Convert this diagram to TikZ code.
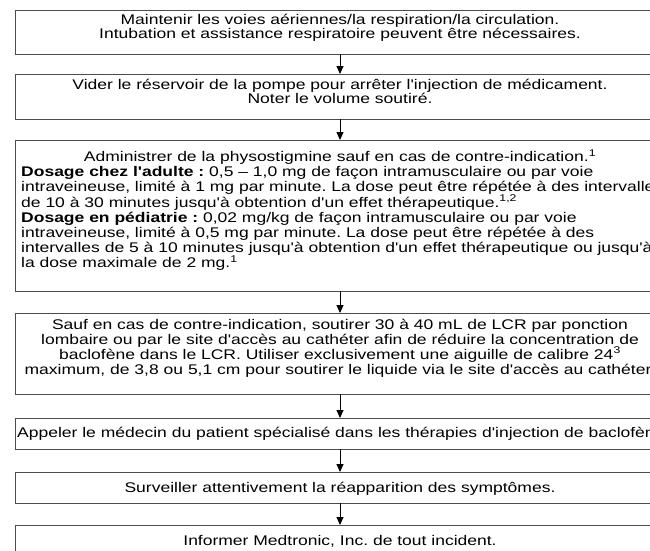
\documentclass[tikz,border=0pt]{standalone}
\usepackage{fontspec}
\setmainfont{Liberation Sans}[FakeStretch=1.25,Ligatures=TeXOff]
\usetikzlibrary{arrows.meta}
\tikzset{
  stepbox/.style={draw=black!70, line width=1pt, minimum width=650pt, inner sep=0pt, outer sep=0pt},
  txt/.style={inner sep=0pt, anchor=base, font=\fontsize{14}{15}\selectfont\frenchspacing},
  txtl/.style={inner sep=0pt, anchor=base west, font=\fontsize{14}{15}\selectfont\frenchspacing},
  flow/.style={-{Triangle[length=8pt,width=7pt]}, line width=0.9pt, black},
}
\begin{document}
\begin{tikzpicture}[x=1pt,y=-1pt]
\useasboundingbox (0,0) rectangle (650,550);
\fill[white] (0,0) rectangle (650,550);
\clip (0,0) rectangle (650,550);
% boxes
\node[stepbox, minimum height=44pt] (b1) at (340,32) {};
\node[stepbox, minimum height=45pt] (b2) at (340,96.5) {};
\node[stepbox, minimum height=151pt] (b3) at (340,215.5) {};
\node[stepbox, minimum height=81pt] (b4) at (340,353.5) {};
\node[stepbox, minimum height=31pt] (b5) at (340,433.5) {};
\node[stepbox, minimum height=31pt] (b6) at (340,487.5) {};
\node[stepbox, minimum height=31pt] (b7) at (340,540.5) {};
% connectors
\draw[flow] (b1.south) -- (b2.north);
\draw[flow] (b2.south) -- (b3.north);
\draw[flow] (b3.south) -- (b4.north);
\draw[flow] (b4.south) -- (b5.north);
\draw[flow] (b5.south) -- (b6.north);
\draw[flow] (b6.south) -- (b7.north);
% box 1
\node[txt] (t1a) at (340,24) {Maintenir les voies aériennes/la respiration/la circulation.};
\node[txt] (t1b) at (340,38.5) {Intubation et assistance respiratoire peuvent être nécessaires.};
% box 2
\node[txt] (t2a) at (340,89) {Vider le réservoir de la pompe pour arrêter l'injection de médicament.};
\node[txt] (t2b) at (340,103.5) {Noter le volume soutiré.};
% box 3
\node[txt] (t3a) at (340,161.5) {Administrer de la physostigmine sauf en cas de contre-indication.\textsuperscript{1}};
\node[txtl] (t3b) at (21,176.7) {\textbf{Dosage chez l'adulte :} 0,5 – 1,0 mg de façon intramusculaire ou par voie};
\node[txtl] (t3c) at (21,191.9) {intraveineuse, limité à 1 mg par minute. La dose peut être répétée à des intervalles};
\node[txtl] (t3d) at (21,207.1) {de 10 à 30 minutes jusqu'à obtention d'un effet thérapeutique.\textsuperscript{1,2}};
\node[txtl] (t3e) at (21,222.3) {\textbf{Dosage en pédiatrie :} 0,02 mg/kg de façon intramusculaire ou par voie};
\node[txtl] (t3f) at (21,237.5) {intraveineuse, limité à 0,5 mg par minute. La dose peut être répétée à des};
\node[txtl] (t3g) at (21,252.7) {intervalles de 5 à 10 minutes jusqu'à obtention d'un effet thérapeutique ou jusqu'à};
\node[txtl] (t3h) at (21,267.9) {la dose maximale de 2 mg.\textsuperscript{1}};
% box 4
\node[txt] (t4a) at (340,329) {Sauf en cas de contre-indication, soutirer 30 à 40 mL de LCR par ponction};
\node[txt] (t4b) at (340,344) {lombaire ou par le site d'accès au cathéter afin de réduire la concentration de};
\node[txt] (t4c) at (340,359) {baclofène dans le LCR. Utiliser exclusivement une aiguille de calibre 24\textsuperscript{3}};
\node[txt] (t4d) at (340,374) {maximum, de 3,8 ou 5,1 cm pour soutirer le liquide via le site d'accès au cathéter.};
% box 5
\node[txtl] (t5) at (17,437.5) {Appeler le médecin du patient spécialisé dans les thérapies d'injection de baclofène.};
% box 6
\node[txt] (t6) at (340,492) {Surveiller attentivement la réapparition des symptômes.};
% box 7
\node[txt] (t7) at (340,545) {Informer Medtronic, Inc. de tout incident.};
\end{tikzpicture}
\end{document}
